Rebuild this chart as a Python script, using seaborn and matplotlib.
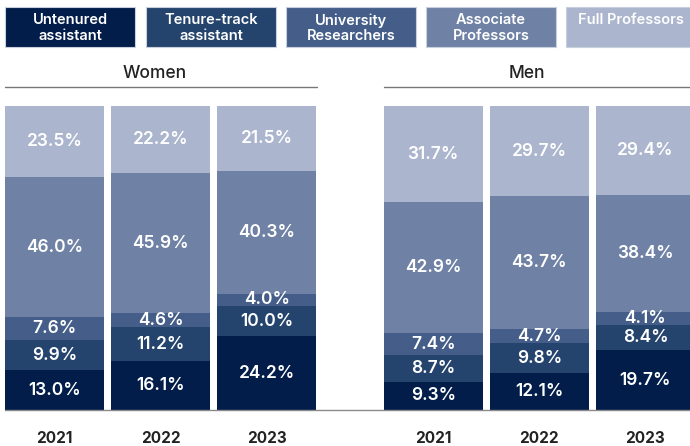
import numpy as np
import pandas as pd
import matplotlib
matplotlib.use("Agg")
import matplotlib.pyplot as plt
from matplotlib.patches import Rectangle
from matplotlib.lines import Line2D
import seaborn as sns

# data
years = ["2021", "2022", "2023"]
categories = ["Untenured\nassistant", "Tenure-track\nassistant", "University\nResearchers",
              "Associate\nProfessors", "Full Professors"]
women_untenured = [13.0, 16.1, 24.2]
women_tenure = [9.9, 11.2, 10.0]
women_research = [7.6, 4.6, 4.0]
women_assoc = [46.0, 45.9, 40.3]
women_full = [23.5, 22.2, 21.5]
men_untenured = [9.3, 12.1, 19.7]
men_tenure = [8.7, 9.8, 8.4]
men_research = [7.4, 4.7, 4.1]
men_assoc = [42.9, 43.7, 38.4]
men_full = [31.7, 29.7, 29.4]

colors = ["#021d4a", "#24446d", "#445e89", "#6f82a5", "#abb5cd"]

W, H = 690, 446
sns.set_theme(style="white")
plt.rcParams["font.family"] = ["Inter", "DejaVu Sans"]

fig = plt.figure(figsize=(W / 100, H / 100), dpi=100)


def fx(px):
    return px / W


def fy(py):
    return 1 - py / H


# main axes: bars from y=106 to y=410 px
ax = fig.add_axes([fx(5), fy(410), fx(690 - 5), (410 - 106) / H])

pos = [0.0, 1.0, 2.0, 3.57, 4.57, 5.57]
layers = [
    women_untenured + men_untenured,
    women_tenure + men_tenure,
    women_research + men_research,
    women_assoc + men_assoc,
    women_full + men_full,
]
df = pd.DataFrame({"pos": pos})
cum = np.zeros(len(pos))
for i, vals in enumerate(layers):
    cum = cum + np.array(vals)
    df[f"cum{i}"] = cum

# draw cumulative totals from the top layer down so lower layers overlay
for i in range(len(layers) - 1, -1, -1):
    sns.barplot(data=df, x="pos", y=f"cum{i}", color=colors[i], native_scale=True,
                width=0.934, linewidth=0, saturation=1, ax=ax)

# segment labels
bottom = np.zeros(len(pos))
for i, vals in enumerate(layers):
    for j, v in enumerate(vals):
        ax.text(pos[j], bottom[j] + v / 2, f"{v:.1f}%", ha="center", va="center",
                color="white", fontsize=12.5, fontweight="semibold")
    bottom = bottom + np.array(vals)

ax.set_xlim(-0.467, 5.99)
ax.set_ylim(0, 100)
ax.set_xticks(pos)
ax.set_xticklabels(years + years, fontsize=11, fontweight="bold", color="#222222")
ax.tick_params(axis="x", length=0, pad=15)
ax.set_yticks([])
ax.set_xlabel("")
ax.set_ylabel("")
for s in ["top", "left", "right"]:
    ax.spines[s].set_visible(False)
ax.spines["bottom"].set_color("#8a8a8a")
ax.spines["bottom"].set_linewidth(1)

# legend boxes
box_left = [5, 146, 286, 426, 566]
for i, lab in enumerate(categories):
    fig.patches.append(Rectangle((fx(box_left[i]), fy(47)), fx(130), (47 - 7) / H,
                                 transform=fig.transFigure, facecolor=colors[i],
                                 edgecolor="#c8d0de", linewidth=0.8))
    fig.text(fx(box_left[i] + 65), fy(13), lab, ha="center", va="top", color="white",
             fontsize=10.5, fontweight="semibold", linespacing=1.15)

# group headers with rules
for name, x0, x1, xc in [("Women", 5, 317, 155), ("Men", 384, 690, 527)]:
    fig.text(fx(xc), fy(74), name, ha="center", va="center", fontsize=12.5,
             fontweight="medium", color="#222222")
    fig.lines.append(Line2D([fx(x0), fx(x1)], [fy(87), fy(87)], transform=fig.transFigure,
                            color="#777777", linewidth=1))

fig.savefig("out.png", dpi=100)
